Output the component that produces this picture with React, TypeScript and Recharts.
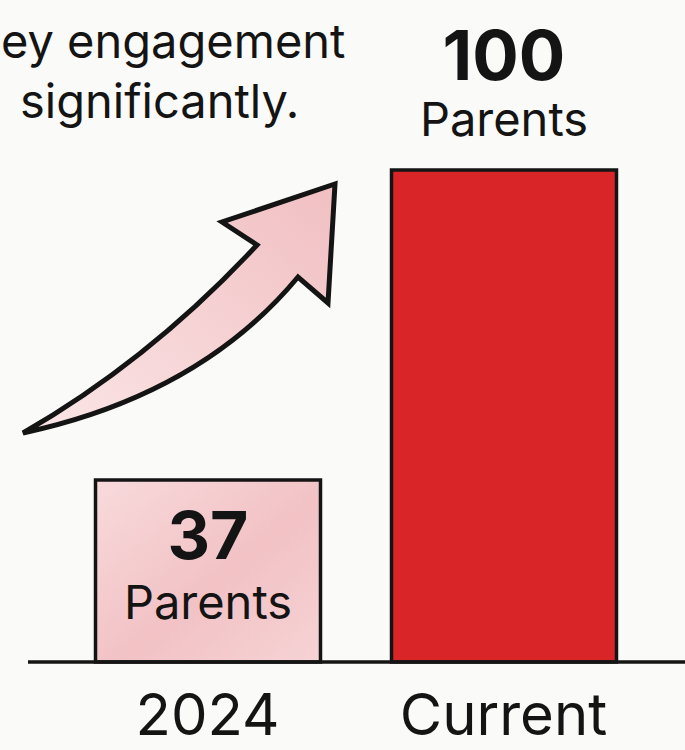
import { BarChart, Bar, XAxis, YAxis, LabelList, Customized, Cell } from 'recharts';

const categories = ['2024', 'Current'];
const parentCounts = [37, 100];
const unitLabel = 'Parents';
// only the visible part of the cropped headline
const titleLines = ['ey engagement', 'significantly.'];

const barFills = ['url(#pinkFill)', '#d92528'];

const data = categories.map((name, i) => ({ name, parents: parentCounts[i] }));

const FONT = 'Inter, Roboto, sans-serif';
const INK = '#141414';

// two-line value label: above the tall bar, inside the short one
const ValueLabel = (props: any) => {
  const { x, y, width, height, value } = props;
  const cx = x + width / 2;
  const inside = value < 50;
  const bottom = y + height;
  const numY = inside ? bottom - 103 : y - 90;
  const unitY = inside ? bottom - 43 : y - 34;
  return (
    <g>
      <text x={cx} y={numY} textAnchor="middle" fontFamily={FONT} fontWeight={700} fontSize={inside ? 66 : 69} fill={INK}>
        {value}
      </text>
      <text x={cx} y={unitY} textAnchor="middle" fontFamily={FONT} fontSize={47} fill={INK}>
        {unitLabel}
      </text>
    </g>
  );
};

const CategoryTick = ({ x, y, payload }: any) => (
  <text x={x} y={y + 73} textAnchor="middle" fontFamily={FONT} fontSize={58} fill={INK}>
    {payload.value}
  </text>
);

// decorative trend arrow + headline text
const Decor = () => (
  <g>
    <text x={1} y={58} fontFamily={FONT} fontSize={47} fill={INK}>
      {titleLines[0]}
    </text>
    <text x={20} y={118} fontFamily={FONT} fontSize={47} fill={INK}>
      {titleLines[1]}
    </text>
    <path
      d="M23,433 Q150,360 257,245 L222,222 L335,184 L328,303 L298,277 Q200,395 23,433 Z"
      fill="url(#arrowFill)"
      stroke={INK}
      strokeWidth={5}
      strokeLinejoin="miter"
    />
  </g>
);

export default function App() {
  return (
    <div style={{ position: 'absolute', left: 0, top: 0, width: 685, height: 750, background: '#fafaf8' }}>
      <BarChart
        width={685}
        height={750}
        data={data}
        margin={{ top: 170, right: 0, bottom: 58, left: 28 }}
        barCategoryGap={0}
      >
        <defs>
          <linearGradient id="pinkFill" x1="0" y1="0" x2="1" y2="1">
            <stop offset="0%" stopColor="#f8dadc" />
            <stop offset="55%" stopColor="#f2c2c5" />
            <stop offset="100%" stopColor="#f6d3d5" />
          </linearGradient>
          <linearGradient id="arrowFill" x1="0" y1="1" x2="1" y2="0">
            <stop offset="0%" stopColor="#fbe6e7" />
            <stop offset="100%" stopColor="#f1bfc2" />
          </linearGradient>
        </defs>
        <XAxis
          dataKey="name"
          height={30}
          axisLine={{ stroke: INK, strokeWidth: 3.5 }}
          tickLine={false}
          tickSize={0}
          tickMargin={0}
          tick={<CategoryTick />}
          padding={{ left: 31.5, right: 33.5 }}
          interval={0}
        />
        <YAxis hide domain={[0, 100]} />
        <Bar dataKey="parents" barSize={225} stroke={INK} strokeWidth={3.5} isAnimationActive={false}>
          {data.map((d, i) => (
            <Cell key={d.name} fill={barFills[i]} />
          ))}
          <LabelList dataKey="parents" content={<ValueLabel />} />
        </Bar>
        <Customized component={Decor} />
      </BarChart>
    </div>
  );
}
